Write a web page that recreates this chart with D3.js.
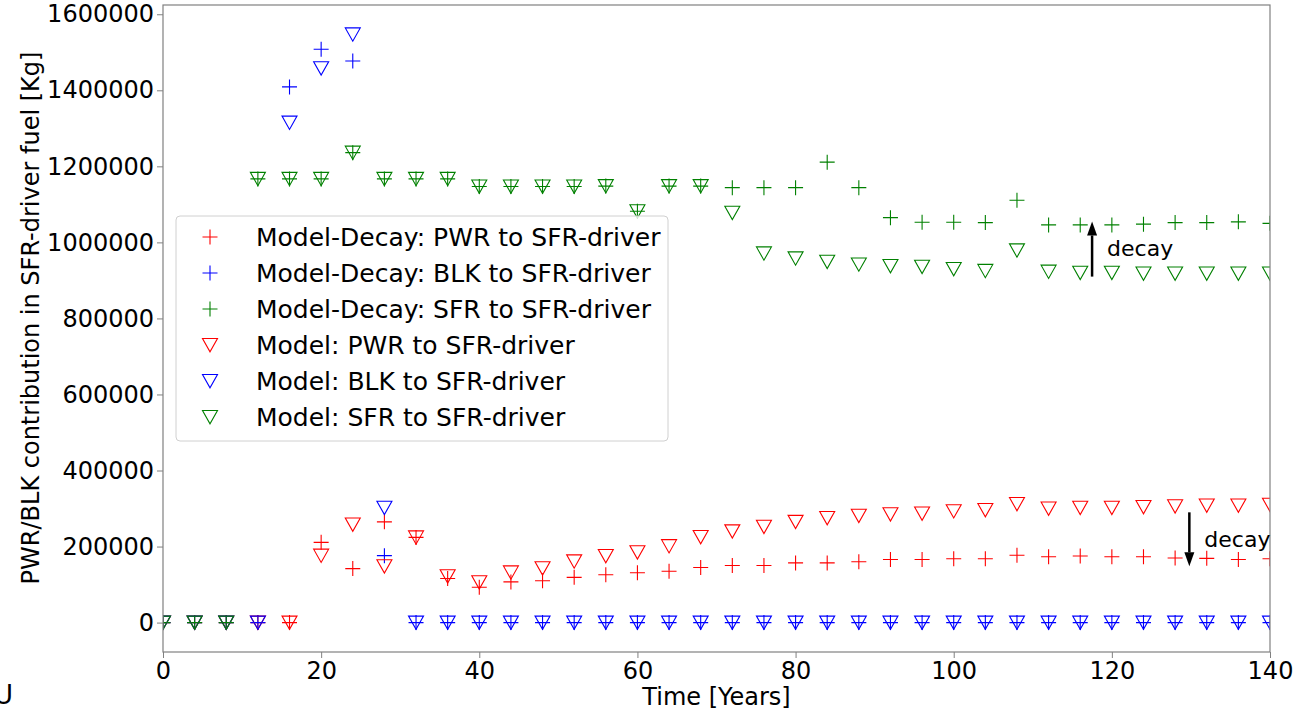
<!DOCTYPE html>
<html>
<head>
<meta charset="utf-8">
<script src="https://cdn.jsdelivr.net/npm/d3@7"></script>
<style>
  body { margin: 0; background: #fff; }
  text { font-family: "DejaVu Sans", sans-serif; }
</style>
</head>
<body>
<div id="chart"></div>
<script>
const years = d3.range(0, 141, 4);

const decayPWR = [0, 0, 0, 0, 0, 211000, 142000, 265000, 224000, 116000, 93000, 107000, 110000, 119000, 126000, 131000, 135000, 145000, 150000, 150000, 157000, 157000, 160000, 166000, 166000, 168000, 168000, 177000, 173000, 175000, 173000, 173000, 170000, 169000, 166000, 168000];
const decayBLK = [0, 0, 0, 0, 1409000, 1508000, 1477000, 176000, 0, 0, 0, 0, 0, 0, 0, 0, 0, 0, 0, 0, 0, 0, 0, 0, 0, 0, 0, 0, 0, 0, 0, 0, 0, 0, 0, 0];
const decaySFR = [0, 0, 0, 1167000, 1167000, 1167000, 1236000, 1167000, 1167000, 1167000, 1147000, 1147000, 1147000, 1147000, 1148000, 1082000, 1148000, 1148000, 1144000, 1144000, 1144000, 1211000, 1144000, 1065000, 1053000, 1053000, 1052000, 1111000, 1046000, 1046000, 1046000, 1048000, 1052000, 1052000, 1054000, 1050000];
const modelPWR = [0, 0, 0, 0, 0, 176000, 258000, 148000, 224000, 122000, 106000, 132000, 143000, 161000, 175000, 185000, 201000, 225000, 240000, 252000, 265000, 275000, 281000, 285000, 287000, 293000, 296000, 312000, 300000, 302000, 302000, 304000, 306000, 308000, 308000, 310000];
const modelBLK = [0, 0, 0, 0, 1315000, 1458000, 1547000, 302000, 0, 0, 0, 0, 0, 0, 0, 0, 0, 0, 0, 0, 0, 0, 0, 0, 0, 0, 0, 0, 0, 0, 0, 0, 0, 0, 0, 0];
const modelSFR = [0, 0, 0, 1167000, 1167000, 1167000, 1236000, 1167000, 1167000, 1167000, 1147000, 1147000, 1147000, 1147000, 1148000, 1082000, 1148000, 1148000, 1078000, 971000, 958000, 949000, 942000, 938000, 936000, 930000, 925000, 979000, 923000, 920000, 920000, 918000, 918000, 918000, 918000, 918000];

const xTicks = [0, 20, 40, 60, 80, 100, 120, 140];
const yTicks = [0, 200000, 400000, 600000, 800000, 1000000, 1200000, 1400000, 1600000];

const series = [
  { label: "Model-Decay: PWR to SFR-driver", values: decayPWR, color: "#ff0000", marker: "plus" },
  { label: "Model-Decay: BLK to SFR-driver", values: decayBLK, color: "#0000ff", marker: "plus" },
  { label: "Model-Decay: SFR to SFR-driver", values: decaySFR, color: "#008000", marker: "plus" },
  { label: "Model: PWR to SFR-driver", values: modelPWR, color: "#ff0000", marker: "tri" },
  { label: "Model: BLK to SFR-driver", values: modelBLK, color: "#0000ff", marker: "tri" },
  { label: "Model: SFR to SFR-driver", values: modelSFR, color: "#008000", marker: "tri" }
];

const width = 1310;
const height = 712;
const margin = { top: 5, right: 40, bottom: 60, left: 163 };

const allVals = series.flatMap(s => s.values);
const vmin = d3.min(allVals), vmax = d3.max(allVals);
const pad = (vmax - vmin) * 0.05;

const x = d3.scaleLinear()
  .domain([0, 140])
  .range([margin.left, width - margin.right]);

const y = d3.scaleLinear()
  .domain([vmin - pad, vmax + pad])
  .range([height - margin.bottom, margin.top]);

const svg = d3.select("#chart")
  .append("svg")
  .attr("width", width)
  .attr("height", height);

const markerPath = {
  plus: "M-7.5,0H7.5M0,-7.5V7.5",
  tri: "M-7.5,-6.5L7.5,-6.5L0,6.8Z"
};

svg.append("clipPath")
  .attr("id", "plot-clip")
  .append("rect")
  .attr("x", margin.left)
  .attr("y", margin.top)
  .attr("width", width - margin.right - margin.left)
  .attr("height", height - margin.bottom - margin.top);

const plot = svg.append("g").attr("clip-path", "url(#plot-clip)");

series.forEach(s => {
  plot.append("g")
    .selectAll("path")
    .data(s.values.map((v, i) => ({ t: years[i], v: v })))
    .join("path")
    .attr("transform", d => `translate(${x(d.t)},${y(d.v)})`)
    .attr("d", markerPath[s.marker])
    .attr("fill", "none")
    .attr("stroke", s.color)
    .attr("stroke-width", 1.1);
});

// axes
const xAxis = d3.axisBottom(x).tickValues(xTicks).tickSize(6).tickPadding(4);
const yAxis = d3.axisLeft(y).tickValues(yTicks).tickSize(6).tickPadding(3).tickFormat(d3.format("d"));

const gx = svg.append("g")
  .attr("transform", `translate(0,${height - margin.bottom})`)
  .call(xAxis);
const gy = svg.append("g")
  .attr("transform", `translate(${margin.left},0)`)
  .call(yAxis);

[gx, gy].forEach(g => {
  g.select(".domain").remove();
  g.selectAll("line").attr("stroke", "#808080");
  g.selectAll("text").attr("font-size", 24).attr("fill", "#000")
    .attr("font-family", "DejaVu Sans");
});

// spines
svg.append("rect")
  .attr("x", margin.left)
  .attr("y", margin.top)
  .attr("width", width - margin.right - margin.left)
  .attr("height", height - margin.bottom - margin.top)
  .attr("fill", "none")
  .attr("stroke", "#808080")
  .attr("stroke-width", 1.2);

svg.append("text")
  .attr("x", (margin.left + width - margin.right) / 2)
  .attr("y", 705)
  .attr("text-anchor", "middle")
  .attr("font-size", 24)
  .text("Time [Years]");

svg.append("text")
  .attr("transform", "rotate(-90)")
  .attr("x", -318)
  .attr("y", 39)
  .attr("text-anchor", "middle")
  .attr("font-size", 24)
  .text("PWR/BLK contribution in SFR-driver fuel [Kg]");

// cropped panel letter at bottom left
svg.append("text")
  .attr("x", -6)
  .attr("y", 704)
  .attr("font-size", 26)
  .text("U");

// decay arrows
function arrow(x0, y0, x1, y1) {
  const dir = y1 < y0 ? -1 : 1;
  const headLen = 14, headW = 5;
  svg.append("line")
    .attr("x1", x0).attr("y1", y0)
    .attr("x2", x1).attr("y2", y1 - dir * headLen)
    .attr("stroke", "#000").attr("stroke-width", 2.5);
  svg.append("path")
    .attr("d", `M${x1},${y1}L${x1 - headW},${y1 - dir * headLen}L${x1 + headW},${y1 - dir * headLen}Z`)
    .attr("fill", "#000");
}

arrow(x(117.5), y(910000), x(117.5), y(1055000));
arrow(x(129.8), y(290000), x(129.8), y(148000));

svg.append("text")
  .attr("x", x(119.4)).attr("y", y(965000))
  .attr("font-family", "Liberation Sans, Arial, sans-serif")
  .attr("font-size", 22)
  .text("decay");
svg.append("text")
  .attr("x", x(131.7)).attr("y", y(200000))
  .attr("font-family", "Liberation Sans, Arial, sans-serif")
  .attr("font-size", 22)
  .text("decay");

// legend
const legend = svg.append("g");
legend.append("rect")
  .attr("x", 176).attr("y", 216)
  .attr("width", 492).attr("height", 225)
  .attr("rx", 4)
  .attr("fill", "#fff").attr("fill-opacity", 0.8)
  .attr("stroke", "#d0d0d0").attr("stroke-width", 1);

const items = legend.selectAll(".item")
  .data(series)
  .join("g")
  .attr("class", "item")
  .attr("transform", (d, i) => `translate(210,${237 + i * 36})`);

items.append("path")
  .attr("d", d => markerPath[d.marker])
  .attr("fill", "none")
  .attr("stroke", d => d.color)
  .attr("stroke-width", 1.1);

items.append("text")
  .attr("x", 46)
  .attr("dy", "0.36em")
  .attr("font-size", 25)
  .text(d => d.label);
</script>
</body>
</html>
